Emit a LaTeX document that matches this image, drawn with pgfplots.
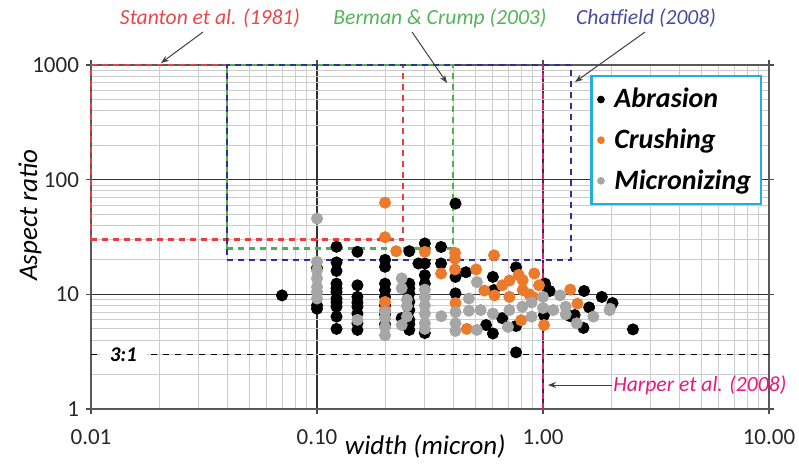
\documentclass[border=0pt]{standalone}
\usepackage{fontspec}
\setmainfont{Carlito}
\usepackage{pgfplots}
\pgfplotsset{compat=1.18}
\usetikzlibrary{arrows.meta}

\definecolor{cru}{HTML}{EC7A2C}
\definecolor{mic}{HTML}{A6A6A6}
\definecolor{stan}{HTML}{EE3B3B}
\definecolor{berm}{HTML}{4CB04C}
\definecolor{chat}{HTML}{2E3192}
\definecolor{harp}{HTML}{E6197F}
\definecolor{legc}{HTML}{22AEE0}
\definecolor{stanT}{HTML}{E8474C}
\definecolor{bermT}{HTML}{55B45A}
\definecolor{chatT}{HTML}{4A4C9E}

\begin{document}
\begin{tikzpicture}
\begin{loglogaxis}[
  scale only axis, width=339pt, height=172pt,
  xmin=0.01, xmax=10, ymin=1, ymax=1000,
  xtick={0.01,0.1,1,10}, xticklabels={0.01,0.10,1.00,10.00},
  ytick={1,10,100,1000}, yticklabels={1,10,100,1000},
  grid=both,
  major grid style={black!80, line width=0.6pt},
  minor grid style={black!20, line width=0.4pt},
  tick align=outside, major tick length=2.5pt, minor tick length=0pt,
  tick style={black!70, line width=0.8pt},
  axis line style={black!65, line width=1pt},
  tick label style={font=\fontsize{11.5}{13}\selectfont, text=black!85},
  xticklabel style={yshift=-4pt},
  xlabel={width (micron)}, ylabel={Aspect ratio},
  label style={font=\fontsize{13.5}{16}\selectfont\itshape},
  xlabel style={at={(rel axis cs:0.493,-0.108)}, anchor=center},
  ylabel style={at={(rel axis cs:-0.09,0.564)}, anchor=center},
  clip=false,
  legend columns=1,
  legend style={at={(rel axis cs:0.99,0.971)}, anchor=north east,
    draw=legc, line width=1.2pt, fill=white,
    font=\fontsize{14}{16}\selectfont\bfseries\itshape,
    row sep=5pt, inner xsep=3pt, inner ysep=4pt,
    /tikz/every odd column/.append style={column sep=3pt}},
  legend cell align=left,
  legend image post style={mark size=1.7pt, line width=0.4pt},
]
% reference regions
\addplot[stan, line width=1.3pt, dash pattern=on 3pt off 2.5pt, forget plot]
  coordinates {(0.01,30) (0.24,30) (0.24,1000) (0.01,1000) (0.01,30)};
\addplot[berm, line width=1.3pt, dash pattern=on 3pt off 2.5pt, forget plot]
  coordinates {(0.04,25) (0.4,25) (0.4,1000) (0.04,1000) (0.04,25)};
\addplot[chat, line width=1.3pt, dash pattern=on 3pt off 2.5pt, forget plot]
  coordinates {(0.04,20) (1.33,20) (1.33,1000) (0.04,1000) (0.04,20)};
\addplot[black, line width=0.6pt, dash pattern=on 3pt off 3pt, forget plot]
  coordinates {(0.01,3) (10,3)};
\addplot[harp, line width=1.4pt, dash pattern=on 3pt off 2pt, forget plot]
  coordinates {(1,1) (1,1000)};

\addplot[only marks, mark=*, mark size=2.8pt, color=black]
  table {
x y
0.07 9.8
0.1 17
0.1 8
0.1 7.5
0.122 26
0.122 19
0.122 16
0.122 12.4
0.122 11.3
0.122 10.5
0.122 9.2
0.122 8.5
0.122 7.8
0.122 6.4
0.122 5.0
0.151 23.5
0.151 12
0.151 9.5
0.151 8.5
0.151 7.8
0.151 6.8
0.151 5.6
0.151 4.9
0.2 20
0.2 17.4
0.2 12.4
0.2 10.9
0.2 9.5
0.2 8.0
0.2 6.7
0.2 5.5
0.237 6.2
0.256 23.8
0.256 12.4
0.256 11.3
0.256 10.2
0.256 8.6
0.256 7.3
0.256 6.0
0.256 5.5
0.256 4.9
0.281 18.6
0.3 27.8
0.3 18.6
0.3 14.7
0.3 12.4
0.3 4.6
0.354 25.9
0.354 18.6
0.41 61.9
0.41 14.2
0.41 10.2
0.456 15.6
0.56 5.4
0.6 14.2
0.607 10.9
0.6 4.56
0.66 6.2
0.76 17.2
0.76 5.3
0.76 3.12
1.02 12.4
1.01 6.6
1.07 10.7
1.32 6.45
1.38 6.6
1.51 5.1
1.52 10.7
1.6 7.7
1.82 9.5
2.03 8.4
2.5 4.95
};
\addlegendentry{Abrasion}

\addplot[only marks, mark=*, mark size=2.8pt, color=cru]
  table {
x y
0.2 63
0.2 31.5
0.2 8.6
0.2 7.3
0.224 23.8
0.3 23.5
0.354 15.2
0.408 23
0.408 20.5
0.408 16.5
0.41 8.4
0.46 5.0
0.506 16.5
0.55 10.8
0.607 21.9
0.61 9.8
0.66 12.0
0.71 13.2
0.71 9.5
0.78 14.8
0.80 5.95
0.813 13.3
0.813 10.9
0.87 10
0.9 9.5
0.915 15.2
0.96 12
1.01 5.4
1.32 11
1.42 8.3
};
\addlegendentry{Crushing}

\addplot[only marks, mark=*, mark size=2.8pt, color=mic]
  table {
x y
0.1 45.8
0.1 19.2
0.1 16.2
0.1 13.8
0.1 11.6
0.1 10.5
0.1 9.2
0.151 6.0
0.2 7.0
0.2 6.2
0.2 5.2
0.2 4.4
0.237 13.8
0.237 11.3
0.237 5.4
0.25 9.0
0.25 7.9
0.25 6.4
0.3 11
0.3 9.5
0.3 8.0
0.3 6.8
0.3 5.6
0.3 5.0
0.355 6.45
0.41 7.0
0.41 5.6
0.41 4.8
0.47 9.2
0.47 7.2
0.51 12.8
0.51 4.9
0.53 7.3
0.6 6.8
0.7 5.2
0.71 7.3
0.81 7.8
0.89 8.5
0.89 6.4
1.0 9.5
1.0 7.6
1.11 7.3
1.19 9.8
1.26 7.8
1.26 6.7
1.41 5.6
1.67 6.4
1.97 7.3
1.98 7.5
};
\addlegendentry{Micronizing}

\node[fill=white, inner xsep=5pt, inner ysep=1pt,
  font=\fontsize{10.5}{12}\selectfont\bfseries\itshape] at (axis cs:0.0139,3) {3:1};

\node[text=stanT, font=\fontsize{10.8}{12}\selectfont\itshape] at (rel axis cs:0.1755,1.1366) {Stanton et al. (1981)};
\node[text=bermT, font=\fontsize{10.8}{12}\selectfont\itshape] at (rel axis cs:0.5147,1.1366) {Berman \& Crump (2003)};
\node[text=chatT, font=\fontsize{10.8}{12}\selectfont\itshape] at (rel axis cs:0.8186,1.1366) {Chatfield (2008)};
\node[text=harp, font=\fontsize{10.8}{12}\selectfont\itshape] at (rel axis cs:0.898,0.0698) {Harper et al. (2008)};

\draw[-{Stealth[length=4pt,width=3pt]}, black!75, line width=0.5pt] (rel axis cs:0.1652,1.0959) -- (rel axis cs:0.1032,1.0058);
\draw[-{Stealth[length=4pt,width=3pt]}, black!75, line width=0.5pt] (rel axis cs:0.4735,1.0959) -- (rel axis cs:0.5251,0.9477);
\draw[-{Stealth[length=4pt,width=3pt]}, black!75, line width=0.5pt] (rel axis cs:0.8171,1.0959) -- (rel axis cs:0.7139,0.9506);
\draw[-{Stealth[length=4pt,width=3pt]}, black!75, line width=0.5pt] (rel axis cs:0.7684,0.0698) -- (rel axis cs:0.674,0.0698);

\coordinate (bbA) at (rel axis cs:-0.1342,-0.157);
\coordinate (bbB) at (rel axis cs:1.0442,1.189);
\end{loglogaxis}
\pgfresetboundingbox
\path (bbA) rectangle (bbB);
\end{tikzpicture}
\end{document}
